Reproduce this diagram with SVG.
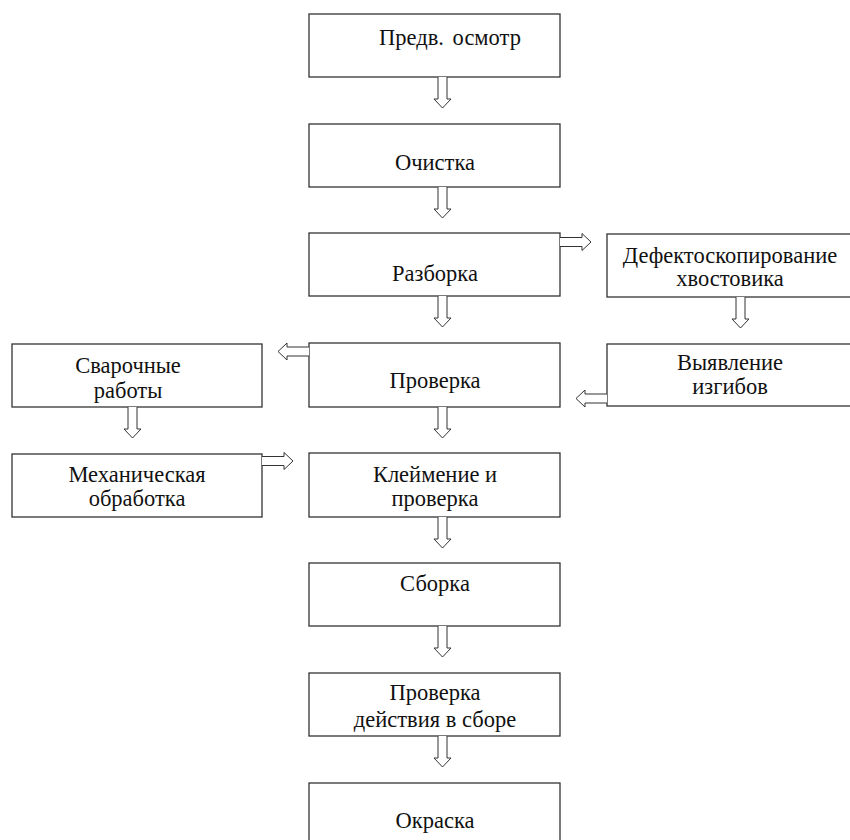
<svg xmlns="http://www.w3.org/2000/svg" width="850" height="840" viewBox="0 0 850 840">
<style>
.box{fill:#fff;stroke:#333;stroke-width:1.3}
.t{font-family:"Liberation Serif","Times New Roman",serif;font-size:22.5px;fill:#111;text-anchor:middle}
.arr{fill:#fff;stroke:#333;stroke-width:1}
</style>
<defs>
<path id="ad" d="M-4.5,0 V22 H-8.5 L0,31 L8.5,22 H4.5 V0"/>
</defs>
<rect width="850" height="840" fill="#fff"/>
<g id="n1"><rect class="box" x="309" y="14" width="251" height="63"/><text class="t" x="450" y="45" word-spacing="3">Предв. осмотр</text></g>
<g id="n2"><rect class="box" x="309" y="124" width="251" height="63"/><text class="t" x="435" y="170">Очистка</text></g>
<g id="n3"><rect class="box" x="309" y="233" width="251" height="63"/><text class="t" x="435" y="281">Разборка</text></g>
<g id="n4"><rect class="box" x="309" y="343" width="251" height="64"/><text class="t" x="435" y="388">Проверка</text></g>
<g id="n5"><rect class="box" x="309" y="453" width="251" height="64"/><text class="t" x="435" y="482">Клеймение и</text><text class="t" x="435" y="506">проверка</text></g>
<g id="n6"><rect class="box" x="309" y="563" width="251" height="63"/><text class="t" x="435" y="591">Сборка</text></g>
<g id="n7"><rect class="box" x="309" y="673" width="251" height="63"/><text class="t" x="435" y="700">Проверка</text><text class="t" x="435" y="727">действия в сборе</text></g>
<g id="n8"><rect class="box" x="309" y="783" width="251" height="64"/><text class="t" x="435" y="828">Окраска</text></g>
<g id="n9"><rect class="box" x="607" y="234" width="250" height="63"/><text class="t" x="730" y="263">Дефектоскопирование</text><text class="t" x="730" y="286">хвостовика</text></g>
<g id="n10"><rect class="box" x="607" y="344" width="250" height="62"/><text class="t" x="730" y="370">Выявление</text><text class="t" x="730" y="394">изгибов</text></g>
<g id="n11"><rect class="box" x="12" y="344" width="250" height="63"/><text class="t" x="128" y="373">Сварочные</text><text class="t" x="128" y="398">работы</text></g>
<g id="n12"><rect class="box" x="12" y="454" width="250" height="63"/><text class="t" x="137" y="482">Механическая</text><text class="t" x="137" y="506">обработка</text></g>
<g id="connectors">
<use href="#ad" class="arr" transform="translate(442.5,77)"/>
<use href="#ad" class="arr" transform="translate(442.5,187)"/>
<use href="#ad" class="arr" transform="translate(442.5,296)"/>
<use href="#ad" class="arr" transform="translate(442.5,407)"/>
<use href="#ad" class="arr" transform="translate(442.5,517)"/>
<use href="#ad" class="arr" transform="translate(442.5,626)"/>
<use href="#ad" class="arr" transform="translate(442.5,736)"/>
<use href="#ad" class="arr" transform="translate(740.5,297)"/>
<use href="#ad" class="arr" transform="translate(132.5,407)"/>
<use href="#ad" class="arr" transform="translate(560,242) rotate(-90)"/>
<use href="#ad" class="arr" transform="translate(262,461) rotate(-90)"/>
<use href="#ad" class="arr" transform="translate(607,398.5) rotate(90)"/>
<use href="#ad" class="arr" transform="translate(309,351.5) rotate(90)"/>
</g>
</svg>
